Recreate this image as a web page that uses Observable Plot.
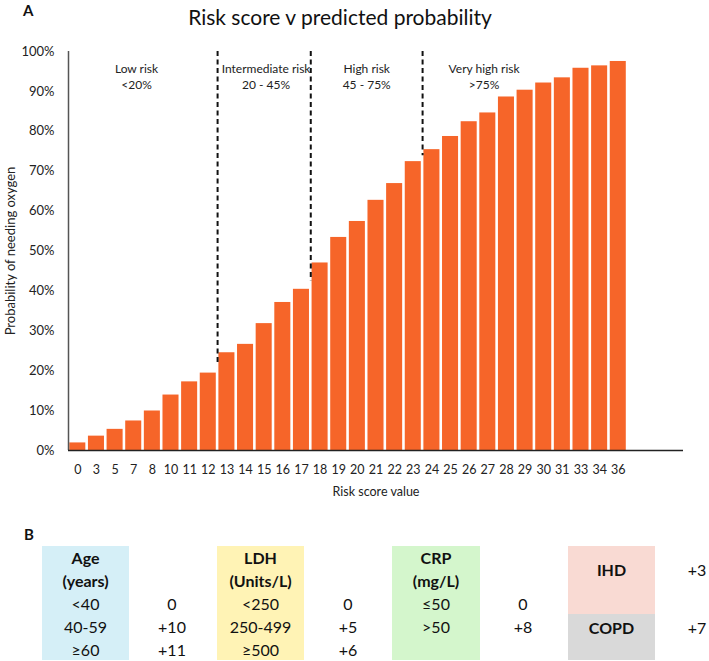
<!DOCTYPE html>
<html>
<head>
<meta charset="utf-8">
<script src="https://cdn.jsdelivr.net/npm/d3@7"></script>
<script src="https://cdn.jsdelivr.net/npm/@observablehq/plot@0.6"></script>
<style>
  html, body { margin: 0; padding: 0; background: #fff; }
  #wrap { position: relative; width: 709px; height: 661px; font-family: Lato, "DejaVu Sans", sans-serif; color: #111; overflow: hidden; }
  .abs { position: absolute; }
  #title { top: 0; left: 0; width: 680px; height: 36px; line-height: 34px; text-align: center; font-size: 21px; color: #111; }
  .panel { font-weight: bold; font-size: 15px; }
  #chart { top: 36px; left: 0; }
  .box { position: absolute; text-align: center; font-size: 16px; line-height: 23px; }
  .col { position: absolute; text-align: center; font-size: 16px; line-height: 23px; width: 60px; }
  .b { font-weight: bold; }
</style>
</head>
<body>
<div id="wrap">
  <div id="title" class="abs">Risk score v predicted probability</div>
  <div class="abs panel" style="left:23px; top:1px;">A</div>
  <div id="chart" class="abs"></div>
  <div class="abs panel" style="left:24px; top:525px;">B</div>
  <div id="tableB"></div>
</div>
<script>
// ---------- Panel A data ----------
const scoreLabels = ["0","3","5","7","8","10","11","12","13","14","15","16","17","18","19","20","21","22","23","24","25","26","27","28","29","30","31","33","34","36"];
const probabilities = [1.9,3.6,5.3,7.4,9.9,13.9,17.2,19.4,24.5,26.6,31.8,37.1,40.4,47.0,53.4,57.4,62.7,66.9,72.4,75.4,78.7,82.4,84.6,88.6,90.3,92.1,93.4,95.8,96.4,97.5];
const yTicks = [0,10,20,30,40,50,60,70,80,90,100];
const yTitle = "Probability of needing oxygen";
const xTitle = "Risk score value";
// dashed cut-offs drawn just before these score categories
const cutBefore = ["13","18","24"];
const cutEnds = [21.3, 42.4, 73.9];
const riskLabels = ["Low risk\n<20%", "Intermediate risk\n20 - 45%", "High risk\n45 - 75%", "Very high risk\n>75%"];
const riskLabelAt = [3.65, 10.6, 16.0, 22.3];
const riskLabelY = [93.9, 93.9, 93.9, 93.9];

// ---------- Panel B data ----------
const ageHeader = ["Age", "(years)"];
const ageRows = ["<40", "40-59", "≥60"];
const agePoints = ["0", "+10", "+11"];
const ldhHeader = ["LDH", "(Units/L)"];
const ldhRows = ["<250", "250-499", "≥500"];
const ldhPoints = ["0", "+5", "+6"];
const crpHeader = ["CRP", "(mg/L)"];
const crpRows = ["≤50", ">50"];
const crpPoints = ["0", "+8"];
const comorbidities = ["IHD", "COPD"];
const comorbidityPoints = ["+3", "+7"];

// ---------- Panel A ----------
const bars = scoreLabels.map((s, i) => ({i, score: s, p: probabilities[i]}));
const cuts = cutBefore.map((s, k) => ({x: scoreLabels.indexOf(s), end: cutEnds[k]}));
const bands = riskLabels.map((t, k) => ({label: t, at: riskLabelAt[k], y: riskLabelY[k]}));
const nSlots = scoreLabels.length + 3;

const plot = Plot.plot({
  width: 709,
  height: 466,
  marginTop: 15,
  marginBottom: 52,
  marginLeft: 68,
  marginRight: 26,
  style: {fontFamily: "Lato, sans-serif", fontSize: "12.5px", color: "#222", background: "#fff"},
  x: {domain: [0, nSlots], axis: null},
  y: {domain: [0, 100], axis: null},
  marks: [
    Plot.rectY(bars, {x1: "i", x2: d => d.i + 1, y: "p", insetLeft: 1.3, insetRight: 1.3, fill: "#F66529"}),
    Plot.ruleX(cuts, {x: "x", y1: 100, y2: "end", stroke: "#111", strokeWidth: 2, strokeDasharray: "5,3.5"}),
    Plot.ruleX([0], {stroke: "#555", strokeWidth: 1.5}),
    Plot.ruleY([0], {stroke: "#222", strokeWidth: 1.5}),
    Plot.axisY({ticks: yTicks, tickFormat: d => d + "%", tickSize: 0, tickPadding: 14, label: null, fontSize: 13}),
    Plot.text([yTitle], {x: 0, y: 50, text: d => d, textAnchor: "middle", lineAnchor: "middle", rotate: -90, dx: -58, fontSize: 13, fill: "#222"}),
    Plot.axisX({ticks: scoreLabels.map((_, i) => i + 0.5), tickFormat: d => scoreLabels[Math.floor(d)], tickSize: 0, tickPadding: 15,
      label: xTitle, labelAnchor: "center", labelArrow: "none", labelOffset: 45, fontSize: 12.5}),
    Plot.text(bands, {x: "at", y: "y", text: "label", fontSize: 12, lineHeight: 1.3, fill: "#222"})
  ]
});
document.getElementById("chart").appendChild(plot);

// ---------- Panel B ----------
const tb = document.getElementById("tableB");
function box(left, top, w, h, bg, lines, boldCount, padTop) {
  const d = document.createElement("div");
  d.className = "box";
  d.style.cssText += `left:${left}px;top:${top}px;width:${w}px;height:${h}px;background:${bg};padding-top:${padTop||0}px;box-sizing:border-box;`;
  d.innerHTML = lines.map((t, i) => `<div class="${i < boldCount ? 'b' : ''}">${t.replace(/</g,'&lt;').replace(/>/g,'&gt;')}</div>`).join("");
  tb.appendChild(d);
}
function col(cx, top, lines) {
  const d = document.createElement("div");
  d.className = "col";
  d.style.left = (cx - 30) + "px";
  d.style.top = top + "px";
  d.innerHTML = lines.map(t => `<div>${t}</div>`).join("");
  tb.appendChild(d);
}
const boxTop = 546, rowH = 23;
box(42, boxTop, 87, 114, "#D5EFF7", [...ageHeader, ...ageRows], 2);
col(172, boxTop + 2 * rowH, agePoints);
box(217, boxTop, 87, 114, "#FFF3B5", [...ldhHeader, ...ldhRows], 2);
col(348, boxTop + 2 * rowH, ldhPoints);
box(392, boxTop, 88, 114, "#D4F6CC", [...crpHeader, ...crpRows], 2);
col(523, boxTop + 2 * rowH, crpPoints);
box(568, boxTop, 87, 68, "#F9DAD3", [comorbidities[0]], 1, 12);
box(568, boxTop + 68, 87, 46, "#D9D9D9", [comorbidities[1]], 1, 2);
col(697, boxTop + 12, [comorbidityPoints[0]]);
col(697, boxTop + 70, [comorbidityPoints[1]]);
</script>
</body>
</html>
